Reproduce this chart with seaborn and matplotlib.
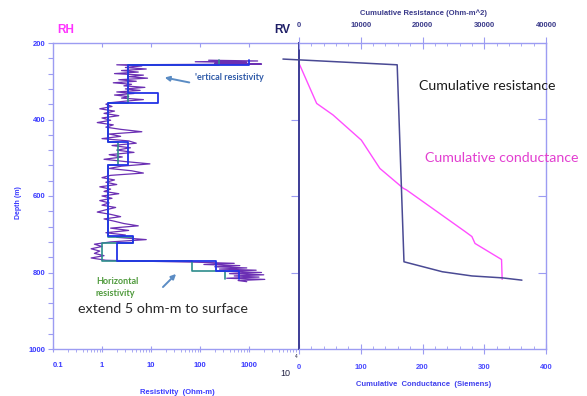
import matplotlib
matplotlib.use("Agg")
import numpy as np
import pandas as pd
import matplotlib.pyplot as plt
import matplotlib.ticker as mtick
import seaborn as sns

W, H = 587, 396

# raw horizontal resistivity log (depth m / ohm-m)
log_depth = [245, 247, 249, 251, 253, 255, 257,
             260, 264, 268, 272, 276, 280, 284, 288, 292, 296, 300, 304, 308,
             312, 316, 320, 324, 328, 332, 336, 340, 344, 348, 352, 356,
             360, 366, 372, 378, 384, 390, 396, 402, 408, 414,
             420, 426, 432, 438, 444, 450, 456, 462, 468, 474,
             480, 486, 492, 498, 504, 510, 516, 522, 528, 534,
             540, 546, 552, 558, 564, 570, 576, 582, 588, 594,
             600, 606, 612, 618, 624, 630, 636, 642, 648, 654,
             660, 666, 672, 678, 684, 690, 696, 702, 708, 714,
             720, 726, 732, 738, 744, 750, 756, 762, 768,
             771, 773, 776, 779, 782, 785, 788, 791, 794, 797,
             800, 803, 806, 809, 812, 815, 818, 821, 824]
log_res = [150, 1500, 80, 900, 200, 1800, 2.0,
           6.5, 3.0, 8.0, 2.5, 5.5, 1.8, 7.0, 3.5, 8.5, 2.2, 5.0, 1.7, 4.0,
           2.8, 7.5, 3.0, 6.0, 2.0, 4.5, 1.8, 3.5, 2.5, 7.0, 3.0, 1.5,
           1.2, 1.6, 0.9, 1.8, 1.1, 2.2, 1.0, 1.5, 0.8, 1.7,
           1.2, 2.5, 6.5, 1.4, 2.4, 1.0, 3.5, 5.0, 1.6, 3.8,
           2.0, 4.5, 1.4, 2.6, 1.1, 3.0, 9.5, 2.5, 1.4, 4.0,
           7.0, 1.5, 1.0, 1.8, 1.2, 2.0, 0.9, 1.5, 1.1, 2.2,
           1.0, 1.6, 0.9, 1.4, 1.0, 1.9, 1.2, 0.8, 1.5, 2.4,
           1.1, 1.8, 2.8, 5.5, 1.5, 3.5, 1.2, 3.0, 2.0, 8.0,
           1.5, 0.7, 1.0, 0.6, 0.9, 0.7, 1.1, 0.6, 1.2,
           12, 80, 500, 120, 650, 200, 900, 250, 1400, 300,
           1800, 400, 2000, 500, 1600, 350, 2100, 600, 900]

# blocky vertical resistivity model
rv_depth = [244, 257, 257, 330, 330, 357, 357, 460, 460, 520,
            520, 705, 705, 723, 723, 770, 770, 797, 797, 818]
rv_res = [1000, 1000, 3.4, 3.4, 14, 14, 1.3, 1.3, 3.4, 3.4,
          1.3, 1.3, 4.3, 4.3, 2.0, 2.0, 210, 210, 630, 630]

# blocky horizontal resistivity model
rh_depth = [244, 257, 257, 357, 357, 460, 460, 520, 520,
            707, 707, 723, 723, 770, 770, 796, 796, 817]
rh_res = [250, 250, 3.4, 3.4, 1.3, 1.3, 2.1, 2.1, 1.3,
          1.3, 4.3, 4.3, 1.0, 1.0, 69, 69, 320, 320]

# cumulative curves
cres_depth = [242, 257, 772, 798, 809, 814, 820]
cres_val = [-2600, 15900, 17000, 23200, 28000, 32900, 36100]
ccond_depth = [253, 358, 388, 454, 528, 580, 584, 693, 706, 724, 766, 818]
ccond_val = [0, 28.6, 55, 101, 131, 169, 174, 269, 280, 285, 328, 329]

sns.set_theme(style="white")
plt.rcParams["font.family"] = ["Liberation Sans", "DejaVu Sans"]

SPINE = "#9c9cf2"
TICKLAB = "#3a3aff"
NAVY = "#3c3c96"


def fx(x):
    return x / W


def fy(y):
    return 1 - y / H


fig = plt.figure(figsize=(W / 100, H / 100), dpi=100)
fig.patch.set_facecolor("white")

# ---------------- left panel: resistivity log ----------------
ax1 = fig.add_axes([fx(53), fy(349), 245 / W, 306 / H])
sns.lineplot(x=log_res, y=log_depth, sort=False, estimator=None, ax=ax1,
             color="#6b2fb3", lw=0.9)
sns.lineplot(x=rh_res, y=rh_depth, sort=False, estimator=None, ax=ax1,
             color="#2e8c8c", lw=1.2)
sns.lineplot(x=rv_res, y=rv_depth, sort=False, estimator=None, ax=ax1,
             color="#2233e6", lw=1.3)
ax1.set_xscale("log")
ax1.set_xlim(0.1, 1e4)
ax1.set_ylim(1000, 200)
ax1.set_xlabel("")
ax1.set_ylabel("")
ax1.set_yticks([200, 400, 600, 800, 1000])
ax1.yaxis.set_minor_locator(mtick.MultipleLocator(40))
ax1.set_xticks([0.1, 1, 10, 100, 1000])
ax1.set_xticklabels(["0.1", "1", "10", "100", "1000"])
ax1.xaxis.set_minor_locator(mtick.LogLocator(base=10, subs=np.arange(2, 10)))
ax1.xaxis.set_minor_formatter(mtick.NullFormatter())
ax1.tick_params(axis="y", which="both", direction="out", length=3.6, width=0.8,
                color=SPINE, left=True, right=False, pad=1.5,
                labelsize=5.5, labelcolor=TICKLAB)
ax1.tick_params(axis="x", which="major", direction="inout", length=4.5, width=0.8,
                color=SPINE, bottom=True, top=False, pad=7,
                labelsize=5.5, labelcolor=TICKLAB)
ax1.tick_params(axis="x", which="minor", direction="out", length=2, width=0.6,
                color=SPINE, bottom=True, top=False)
for lab in ax1.get_xticklabels() + ax1.get_yticklabels():
    lab.set_fontweight("bold")
ax1.get_xticklabels()[0].set_horizontalalignment("left")
for s in ["left", "bottom", "top"]:
    ax1.spines[s].set_color(SPINE)
    ax1.spines[s].set_linewidth(1.0)
ax1.spines["right"].set_visible(False)

# top decade ticks
ax1t = ax1.twiny()
ax1t.set_xscale("log")
ax1t.set_xlim(0.1, 1e4)
ax1t.set_xticks([1, 10, 100, 1000])
ax1t.xaxis.set_minor_locator(mtick.NullLocator())
ax1t.tick_params(axis="x", direction="in", length=3, width=0.8, color=SPINE,
                 labeltop=False, top=True)
for s in ax1t.spines.values():
    s.set_visible(False)

# ---------------- right panel: cumulative curves ----------------
ax2 = fig.add_axes([fx(299), fy(349), 247 / W, 306 / H])
ax2.patch.set_alpha(0)
sns.lineplot(x=ccond_val, y=ccond_depth, sort=False, estimator=None, ax=ax2,
             color="#ff4dff", lw=1.0)
ax2.set_xlim(0, 400)
ax2.set_ylim(1000, 200)
ax2.set_xlabel("")
ax2.set_ylabel("")
ax2.set_xticks([0, 100, 200, 300, 400])
ax2.xaxis.set_minor_locator(mtick.MultipleLocator(20))
ax2.set_yticks([400, 600, 800])
ax2.tick_params(axis="x", which="major", direction="inout", length=7, width=0.8,
                color=SPINE, bottom=True, top=False, pad=7,
                labelsize=5.5, labelcolor="#4a4aff")
ax2.tick_params(axis="x", which="minor", direction="in", length=2, width=0.6,
                color=SPINE, bottom=True, top=False)
ax2.tick_params(axis="y", direction="out", length=5.5, width=0.8, color=SPINE,
                left=True, right=False, labelleft=False)
for lab in ax2.get_xticklabels():
    lab.set_fontweight("bold")
ax2.spines["left"].set_color(NAVY)
ax2.spines["left"].set_linewidth(1.4)
for s in ["right", "bottom"]:
    ax2.spines[s].set_color(SPINE)
    ax2.spines[s].set_linewidth(1.0)
ax2.spines["top"].set_visible(False)

ax3 = ax2.twiny()
sns.lineplot(x=cres_val, y=cres_depth, sort=False, estimator=None, ax=ax3,
             color="#4a4a94", lw=1.1)
for ln in ax3.get_lines():
    ln.set_clip_on(False)
ax3.set_xlim(0, 40000)
ax3.set_ylim(1000, 200)
ax3.set_xlabel("")
ax3.set_ylabel("")
ax3.set_xticks([0, 10000, 20000, 30000, 40000])
ax3.xaxis.set_minor_locator(mtick.MultipleLocator(2000))
ax3.tick_params(axis="x", which="major", direction="inout", length=8.5, width=0.8,
                color=SPINE, top=True, bottom=False, pad=5.5,
                labelsize=5.5, labelcolor="#3a3a8a", labeltop=True, labelbottom=False)
ax3.tick_params(axis="x", which="minor", direction="in", length=2, width=0.6,
                color=SPINE, top=True, bottom=False)
ax3.yaxis.set_visible(True)
ax3.tick_params(axis="y", direction="in", length=5.5, width=0.8, color=SPINE,
                left=False, right=True, labelleft=False, labelright=False)
for lab in ax3.get_xticklabels():
    lab.set_fontweight("bold")
for s in ["left", "right", "bottom"]:
    ax3.spines[s].set_visible(False)
ax3.spines["top"].set_color(SPINE)
ax3.spines["top"].set_linewidth(1.0)

# ---------------- texts ----------------
fig.text(fx(66), fy(30), "RH", color="#ff33ff", fontsize=8.5, fontweight="bold",
         ha="center", va="center", fontstretch="condensed")
fig.text(fx(282), fy(30), "RV", color="#1e1e66", fontsize=8.5, fontweight="bold",
         ha="center", va="center")
fig.text(fx(18), fy(203), "Depth (m)", color=TICKLAB, fontsize=5, fontweight="bold",
         rotation=90, ha="center", va="center")
fig.text(fx(177), fy(392), "Resistivity  (Ohm-m)", color="#3a3aff", fontsize=5.5,
         fontweight="bold", ha="center", va="center")
fig.text(fx(424), fy(13), "Cumulative Resistance (Ohm-m^2)", color="#3a3a8a",
         fontsize=5.5, fontweight="bold", ha="center", va="center")
fig.text(fx(424), fy(385), "Cumulative  Conductance  (Siemens)", color="#4040ee",
         fontsize=5.5, fontweight="bold", ha="center", va="center")
fig.text(fx(285), fy(374), "10", color="#222244", fontsize=6.5, ha="center", va="center")
fig.text(fx(296), fy(356), "4", color="#222244", fontsize=3.5, ha="center", va="center")

fig.text(fx(195), fy(77), "'ertical resistivity", color="#2f5aa8", fontsize=6.5,
         fontweight="bold", family=["Lato", "DejaVu Sans"], ha="left", va="center")
fig.text(fx(96), fy(282), "Horizontal", color="#4f9a3c", fontsize=6.5,
         fontweight="bold", family=["Lato", "DejaVu Sans"], ha="left", va="center")
fig.text(fx(96), fy(294), "resistivity", color="#4f9a3c", fontsize=6.5,
         fontweight="bold", family=["Lato", "DejaVu Sans"], ha="left", va="center")
fig.text(fx(78), fy(309), "extend 5 ohm-m to surface", color="#2a2a2a", fontsize=10.3,
         family=["Lato", "DejaVu Sans"], ha="left", va="center")
fig.text(fx(419), fy(86), "Cumulative resistance", color="#1c1c1c", fontsize=10.2,
         family=["Lato", "DejaVu Sans"], ha="left", va="center")
fig.text(fx(425), fy(158), "Cumulative conductance", color="#e23fd0", fontsize=10.2,
         family=["Lato", "DejaVu Sans"], ha="left", va="center")

arrow = dict(arrowstyle="-|>", color="#5b8cc4", lw=1.4, mutation_scale=7)
fig.add_artist(matplotlib.patches.FancyArrowPatch((fx(192), fy(83)), (fx(162), fy(77)),
                                                  transform=fig.transFigure, **arrow))
fig.add_artist(matplotlib.patches.FancyArrowPatch((fx(161), fy(289)), (fx(178), fy(272)),
                                                  transform=fig.transFigure, **arrow))

fig.savefig("out.png", dpi=100)
